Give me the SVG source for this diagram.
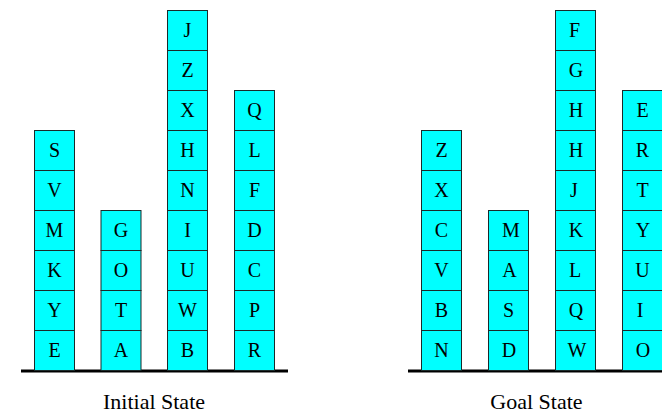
<svg xmlns="http://www.w3.org/2000/svg" width="662" height="413" viewBox="0 0 662 413" font-family="'Liberation Serif', 'DejaVu Serif', serif">
<style>
.b rect{fill:#00ffff;stroke:#1a2a2a;stroke-width:1}
.b text{font-size:20px;fill:#000;text-anchor:middle}
.g{stroke:#000;stroke-width:3}
.lbl{font-size:22px;fill:#000;text-anchor:middle}
</style>
<rect width="662" height="413" fill="#fff"/>
<g id="ground">
<line class="g" x1="21" y1="371" x2="288" y2="371"/>
<line class="g" x1="408" y1="371" x2="662" y2="371"/>
</g>
<g id="initial">
<g id="i-S" class="b"><rect x="34.5" y="130.5" width="40" height="40"/><text x="54.5" y="157">S</text></g>
<g id="i-V" class="b"><rect x="34.5" y="170.5" width="40" height="40"/><text x="54.5" y="197">V</text></g>
<g id="i-M" class="b"><rect x="34.5" y="210.5" width="40" height="40"/><text x="54.5" y="237">M</text></g>
<g id="i-K" class="b"><rect x="34.5" y="250.5" width="40" height="40"/><text x="54.5" y="277">K</text></g>
<g id="i-Y" class="b"><rect x="34.5" y="290.5" width="40" height="40"/><text x="54.5" y="317">Y</text></g>
<g id="i-E" class="b"><rect x="34.5" y="330.5" width="40" height="40"/><text x="54.5" y="357">E</text></g>

<g id="i-G" class="b"><rect x="101" y="210.5" width="40" height="40"/><text x="121" y="237">G</text></g>
<g id="i-O" class="b"><rect x="101" y="250.5" width="40" height="40"/><text x="121" y="277">O</text></g>
<g id="i-T" class="b"><rect x="101" y="290.5" width="40" height="40"/><text x="121" y="317">T</text></g>
<g id="i-A" class="b"><rect x="101" y="330.5" width="40" height="40"/><text x="121" y="357">A</text></g>

<g id="i-J" class="b"><rect x="167.5" y="10.5" width="40" height="40"/><text x="187.5" y="37">J</text></g>
<g id="i-Z" class="b"><rect x="167.5" y="50.5" width="40" height="40"/><text x="187.5" y="77">Z</text></g>
<g id="i-X" class="b"><rect x="167.5" y="90.5" width="40" height="40"/><text x="187.5" y="117">X</text></g>
<g id="i-H" class="b"><rect x="167.5" y="130.5" width="40" height="40"/><text x="187.5" y="157">H</text></g>
<g id="i-N" class="b"><rect x="167.5" y="170.5" width="40" height="40"/><text x="187.5" y="197">N</text></g>
<g id="i-I" class="b"><rect x="167.5" y="210.5" width="40" height="40"/><text x="187.5" y="237">I</text></g>
<g id="i-U" class="b"><rect x="167.5" y="250.5" width="40" height="40"/><text x="187.5" y="277">U</text></g>
<g id="i-W" class="b"><rect x="167.5" y="290.5" width="40" height="40"/><text x="187.5" y="317">W</text></g>
<g id="i-B" class="b"><rect x="167.5" y="330.5" width="40" height="40"/><text x="187.5" y="357">B</text></g>

<g id="i-Q" class="b"><rect x="234.5" y="90.5" width="40" height="40"/><text x="254.5" y="117">Q</text></g>
<g id="i-L" class="b"><rect x="234.5" y="130.5" width="40" height="40"/><text x="254.5" y="157">L</text></g>
<g id="i-F" class="b"><rect x="234.5" y="170.5" width="40" height="40"/><text x="254.5" y="197">F</text></g>
<g id="i-D" class="b"><rect x="234.5" y="210.5" width="40" height="40"/><text x="254.5" y="237">D</text></g>
<g id="i-C" class="b"><rect x="234.5" y="250.5" width="40" height="40"/><text x="254.5" y="277">C</text></g>
<g id="i-P" class="b"><rect x="234.5" y="290.5" width="40" height="40"/><text x="254.5" y="317">P</text></g>
<g id="i-R" class="b"><rect x="234.5" y="330.5" width="40" height="40"/><text x="254.5" y="357">R</text></g>
</g>
<g id="goal">
<g id="g-Z" class="b"><rect x="421.5" y="130.5" width="40" height="40"/><text x="441.5" y="157">Z</text></g>
<g id="g-X" class="b"><rect x="421.5" y="170.5" width="40" height="40"/><text x="441.5" y="197">X</text></g>
<g id="g-C" class="b"><rect x="421.5" y="210.5" width="40" height="40"/><text x="441.5" y="237">C</text></g>
<g id="g-V" class="b"><rect x="421.5" y="250.5" width="40" height="40"/><text x="441.5" y="277">V</text></g>
<g id="g-B" class="b"><rect x="421.5" y="290.5" width="40" height="40"/><text x="441.5" y="317">B</text></g>
<g id="g-N" class="b"><rect x="421.5" y="330.5" width="40" height="40"/><text x="441.5" y="357">N</text></g>

<g id="g-M" class="b"><rect x="488.5" y="210.5" width="40" height="40"/><text x="511" y="237">M</text></g>
<g id="g-A" class="b"><rect x="488.5" y="250.5" width="40" height="40"/><text x="509.5" y="277">A</text></g>
<g id="g-S" class="b"><rect x="488.5" y="290.5" width="40" height="40"/><text x="508.5" y="317">S</text></g>
<g id="g-D" class="b"><rect x="488.5" y="330.5" width="40" height="40"/><text x="509" y="357">D</text></g>

<g id="g-F" class="b"><rect x="555.5" y="10.5" width="40" height="40"/><text x="574.5" y="37">F</text></g>
<g id="g-G" class="b"><rect x="555.5" y="50.5" width="40" height="40"/><text x="576" y="77">G</text></g>
<g id="g-H1" class="b"><rect x="555.5" y="90.5" width="40" height="40"/><text x="576" y="117">H</text></g>
<g id="g-H2" class="b"><rect x="555.5" y="130.5" width="40" height="40"/><text x="576" y="157">H</text></g>
<g id="g-J" class="b"><rect x="555.5" y="170.5" width="40" height="40"/><text x="574" y="197">J</text></g>
<g id="g-K" class="b"><rect x="555.5" y="210.5" width="40" height="40"/><text x="576" y="237">K</text></g>
<g id="g-L" class="b"><rect x="555.5" y="250.5" width="40" height="40"/><text x="575" y="277">L</text></g>
<g id="g-Q" class="b"><rect x="555.5" y="290.5" width="40" height="40"/><text x="576" y="317">Q</text></g>
<g id="g-W" class="b"><rect x="555.5" y="330.5" width="40" height="40"/><text x="577" y="357">W</text></g>

<g id="g-E" class="b"><rect x="622.5" y="90.5" width="40" height="40"/><text x="642.5" y="117">E</text></g>
<g id="g-R" class="b"><rect x="622.5" y="130.5" width="40" height="40"/><text x="642.5" y="157">R</text></g>
<g id="g-T" class="b"><rect x="622.5" y="170.5" width="40" height="40"/><text x="642.5" y="197">T</text></g>
<g id="g-Y" class="b"><rect x="622.5" y="210.5" width="40" height="40"/><text x="643" y="237">Y</text></g>
<g id="g-U" class="b"><rect x="622.5" y="250.5" width="40" height="40"/><text x="642.5" y="277">U</text></g>
<g id="g-I" class="b"><rect x="622.5" y="290.5" width="40" height="40"/><text x="640" y="317">I</text></g>
<g id="g-O" class="b"><rect x="622.5" y="330.5" width="40" height="40"/><text x="643" y="357">O</text></g>
</g>
<text class="lbl" x="154" y="409">Initial State</text>
<text class="lbl" x="536.5" y="409">Goal State</text>
</svg>
